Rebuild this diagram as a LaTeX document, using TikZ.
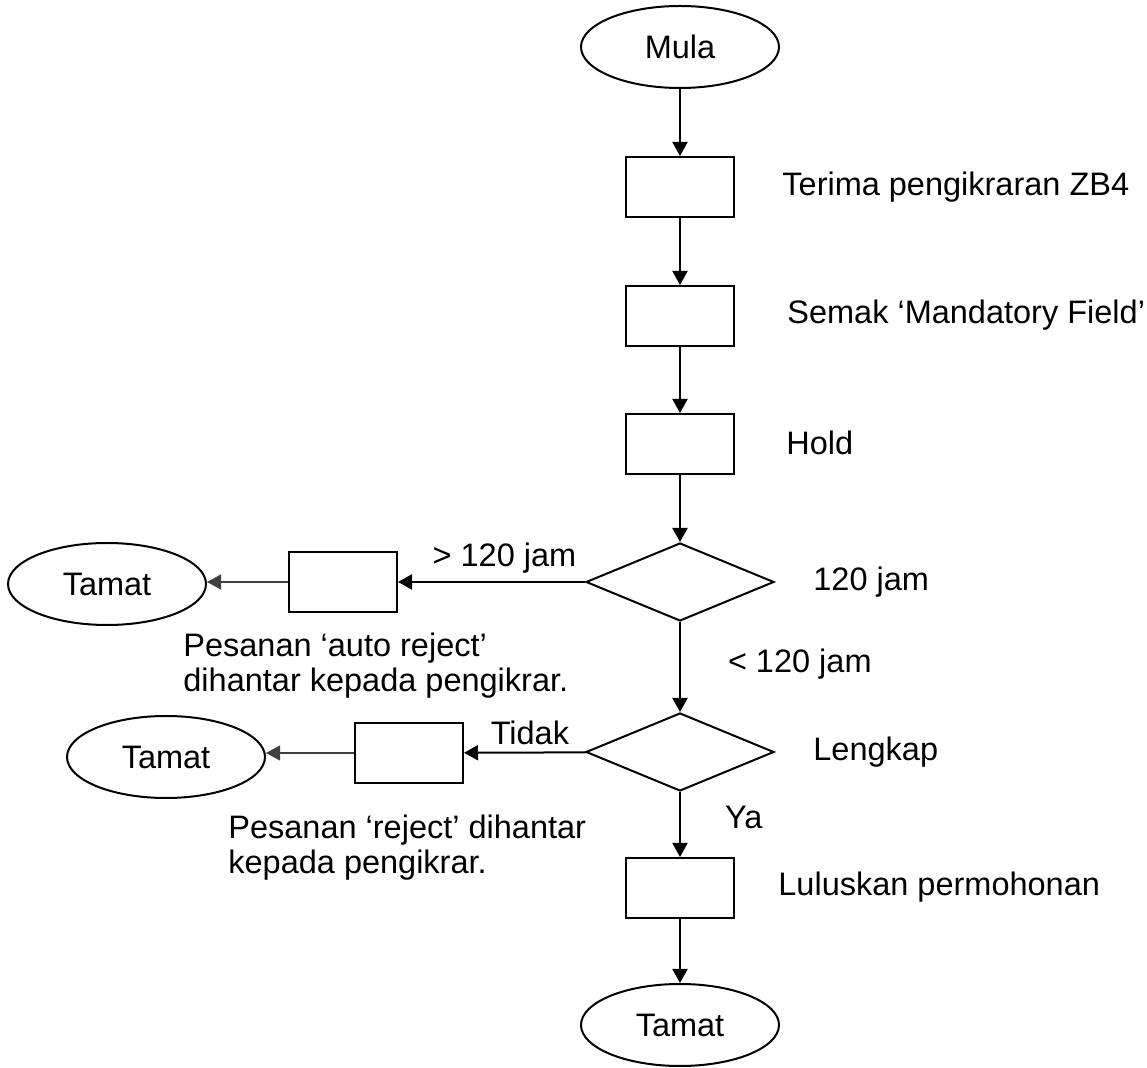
\documentclass[tikz,border=0pt]{standalone}
\usepackage{fontspec}
\setmainfont{Liberation Sans}
\usetikzlibrary{shapes.geometric}
\usetikzlibrary{arrows.meta}
\tikzset{>={Triangle[length=7pt,width=7.5pt]}}
\tikzset{
	kotak/.style={draw,line width=1pt,minimum width=54pt,minimum height=30pt,inner sep=0pt},
	terminal/.style={draw,ellipse,line width=1pt,minimum width=99pt,minimum height=41pt,inner sep=0pt},
	putusan/.style={draw,diamond,line width=1pt,minimum width=94pt,minimum height=39pt,inner sep=0pt},
	teks/.style={inner sep=0pt,anchor=west,align=left},
	aliran/.style={->,line width=1pt},
	aliran tipis/.style={->,line width=0.6pt,black!75}
}

\begin{document}
\begin{tikzpicture}[x=0.5pt,y=-0.5pt,font=\fontsize{16.25}{17.5}\selectfont]
	\useasboundingbox (0,0) rectangle (1147,1068);
	% aliran utama
	\node[terminal] (mula) at (680,47) {Mula};
	\node[kotak] (terima) at (680,187) {};
	\node[kotak] (semak) at (680,316) {};
	\node[kotak] (hold) at (680,444) {};
	\node[putusan] (jam) at (680,582) {};
	\node[putusan] (lengkap) at (680,752) {};
	\node[kotak] (lulus) at (680,888) {};
	\node[terminal] (tamatC) at (680,1025) {Tamat};
	% cabang kiri
	\node[kotak] (auto) at (343,582) {};
	\node[terminal] (tamatA) at (107,584) {Tamat};
	\node[kotak] (reject) at (409,753) {};
	\node[terminal] (tamatB) at (166,757) {Tamat};
	% keterangan
	\node[teks] (tTerima) at (782,187) {Terima pengikraran ZB4};
	\node[teks] (tSemak) at (787,315) {Semak ‘Mandatory Field’};
	\node[teks] (tHold) at (786,443) {Hold};
	\node[teks] (tJam) at (813,582) {120 jam};
	\node[teks] (tLengkap) at (813,752) {Lengkap};
	\node[teks] (tLulus) at (778,887) {Luluskan permohonan};
	\node[teks] (tAuto) at (183,666) {Pesanan ‘auto reject’\\dihantar kepada pengikrar.};
	\node[teks] (tReject) at (228,848) {Pesanan ‘reject’ dihantar\\kepada pengikrar.};

	\draw[aliran] (mula) -- (terima);
	\draw[aliran] (terima) -- (semak);
	\draw[aliran] (semak) -- (hold);
	\draw[aliran] (hold) -- (jam);
	\draw[aliran] (jam) -- node[teks,xshift=23.5pt,yshift=1.5pt] {\textless{} 120 jam} (lengkap);
	\draw[aliran] (lengkap) -- node[teks,xshift=22pt,yshift=3.5pt] {Ya} (lulus);
	\draw[aliran] (lulus) -- (tamatC);
	\draw[aliran] (jam) -- node[inner sep=0pt,yshift=12pt,xshift=6.5pt] {\textgreater{} 120 jam} (auto);
	\draw[aliran tipis] (auto) -- (tamatA.east |- auto);
	\draw[aliran] (lengkap) -- node[inner sep=0pt,yshift=10pt,xshift=2.5pt] {Tidak} (reject);
	\draw[aliran tipis] (reject) -- (tamatB.east |- reject);
\end{tikzpicture}
\end{document}
